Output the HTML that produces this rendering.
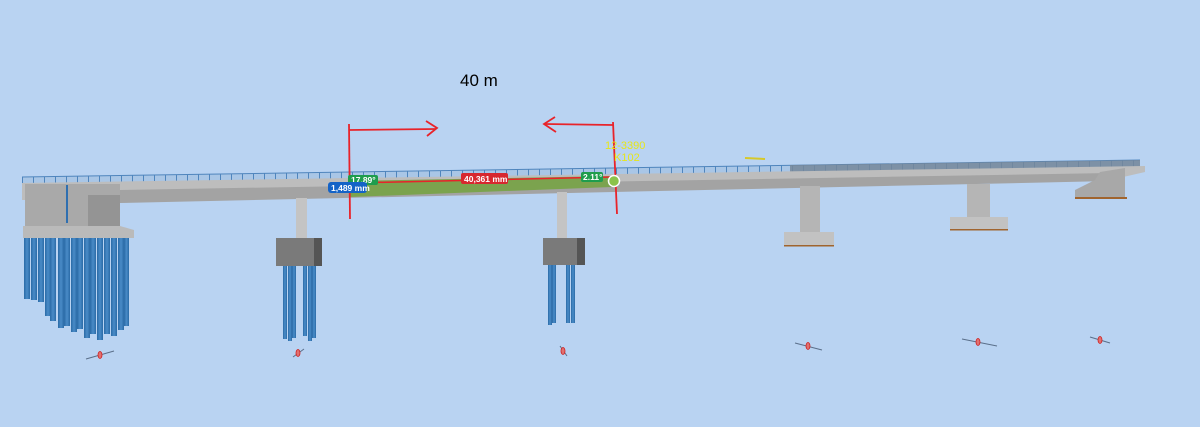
<!DOCTYPE html>
<html><head><meta charset="utf-8"><style>
html,body{margin:0;padding:0;background:#b9d3f2;}
svg{display:block;}
</style></head><body>
<svg width="1200" height="427" viewBox="0 0 1200 427" xmlns="http://www.w3.org/2000/svg" font-family="Liberation Sans, sans-serif">
<rect width="1200" height="427" fill="#b9d3f2"/>
<defs>
<linearGradient id="pile" x1="0" x2="1"><stop offset="0" stop-color="#2a6aa6"/><stop offset="0.5" stop-color="#4a8cc8"/><stop offset="1" stop-color="#2a6aa6"/></linearGradient>
<pattern id="rail" width="11" height="20" patternUnits="userSpaceOnUse"><rect width="11" height="20" fill="#a9c6e6"/><rect x="0" width="1" height="20" fill="#4f85bd"/></pattern>
</defs>
<!-- left abutment piles -->
<g fill="url(#pile)">
<rect x="24" y="236" width="6" height="63"/><rect x="31" y="236" width="6" height="64"/><rect x="38" y="236" width="6" height="66"/>
<rect x="45" y="236" width="6" height="80"/><rect x="50" y="236" width="6" height="85"/><rect x="58" y="236" width="6" height="92"/>
<rect x="64" y="236" width="6" height="90"/><rect x="71" y="236" width="6" height="96"/><rect x="77" y="236" width="6" height="93"/>
<rect x="84" y="236" width="6" height="102"/><rect x="90" y="236" width="6" height="98"/><rect x="97" y="236" width="6" height="104"/>
<rect x="104" y="236" width="6" height="98"/><rect x="111" y="236" width="6" height="100"/><rect x="118" y="236" width="6" height="94"/>
<rect x="124" y="236" width="5" height="90"/>
</g>
<!-- railing -->
<polygon points="22,177 1140,160 1140,168 22,185" fill="url(#rail)"/>
<line x1="22" y1="177" x2="1140" y2="160" stroke="#4f85bd" stroke-width="1"/>
<polygon points="790,165 1140,160 1140,167 790,172" fill="#76879a" opacity="0.85"/>
<!-- deck -->
<polygon points="22,183 1145,166 1145,172 1110,180 120,200 22,200" fill="#bdbdbd"/>
<polygon points="120,190 1110,173 1110,181 120,203" fill="#a3a3a3"/>
<!-- green measured segment -->
<polygon points="350,181 612,176 612,187 350,197" fill="#7ba34e"/>
<!-- left abutment -->
<rect x="25" y="184" width="95" height="42" fill="#a9a9a9"/>
<rect x="88" y="195" width="32" height="31" fill="#949494"/>
<rect x="66" y="185" width="2" height="38" fill="#2f6fb0"/>
<polygon points="23,226 120,226 134,230 134,238 23,238" fill="#bababa"/>
<!-- pier 1 -->
<rect x="296" y="198" width="11" height="40" fill="#c4c4c4"/>
<rect x="276" y="238" width="38" height="28" fill="#7a7a7a"/><rect x="314" y="238" width="8" height="28" fill="#555"/>
<g fill="url(#pile)"><rect x="283" y="266" width="4" height="73"/><rect x="288" y="266" width="4" height="75"/><rect x="292" y="266" width="4" height="72"/><rect x="303" y="266" width="4" height="70"/><rect x="308" y="266" width="4" height="75"/><rect x="312" y="266" width="4" height="72"/></g>
<!-- pier 2 -->
<rect x="557" y="192" width="10" height="46" fill="#c4c4c4"/>
<rect x="543" y="238" width="34" height="27" fill="#7a7a7a"/><rect x="577" y="238" width="8" height="27" fill="#555"/>
<g fill="url(#pile)"><rect x="548" y="265" width="4" height="60"/><rect x="552" y="265" width="4" height="58"/><rect x="566" y="265" width="4" height="58"/><rect x="571" y="265" width="4" height="58"/></g>
<!-- pier 3 -->
<rect x="800" y="186" width="20" height="47" fill="#b5b5b5"/>
<rect x="784" y="232" width="50" height="14" fill="#c2c2c2"/><rect x="784" y="245" width="50" height="1.5" fill="#a0642e"/>
<!-- pier 4 -->
<rect x="967" y="184" width="23" height="34" fill="#b5b5b5"/>
<rect x="950" y="217" width="58" height="13" fill="#c2c2c2"/><rect x="950" y="229" width="58" height="1.5" fill="#a0642e"/>
<!-- right abutment -->
<polygon points="1100,172 1125,168 1125,198 1075,198 1075,190 1085,185 1095,180" fill="#a8a8a8"/>
<rect x="1075" y="197" width="52" height="2" fill="#a0642e"/>
<line x1="745" y1="158" x2="765" y2="159" stroke="#d6c82a" stroke-width="2"/>
<!-- red markup -->
<g stroke="#e8232a" stroke-width="1.8" fill="none">
<line x1="349" y1="124" x2="350" y2="219"/>
<line x1="349" y1="130" x2="436" y2="129"/>
<polyline points="426,121 437,128 427,136"/>
<line x1="613" y1="122" x2="617" y2="214"/>
<line x1="545" y1="124" x2="613" y2="125"/>
<polyline points="555,117 544,124 556,132"/>
<line x1="352" y1="183" x2="612" y2="177" stroke-width="1.5"/>
</g>
<circle cx="614" cy="181" r="5.5" fill="#8bc34a" stroke="#fff" stroke-width="1.5"/>
<text x="460" y="86" font-size="17" fill="#000">40 m</text>
<text x="605" y="149" font-size="11" fill="#e6e61a">12-3390</text>
<text x="614" y="161" font-size="11" fill="#e6e61a">K102</text>
<rect x="348" y="175" width="30" height="10" rx="2" fill="#1f9d4d"/><text x="351" y="183" font-size="8.5" fill="#fff" font-weight="bold">17.89°</text>
<rect x="328" y="182" width="39" height="11" rx="3" fill="#1463c7"/><text x="331" y="191" font-size="8.5" fill="#fff" font-weight="bold">1,489 mm</text>
<rect x="461" y="173" width="47" height="11" rx="2" fill="#d7282f"/><text x="464" y="182" font-size="8.5" fill="#fff" font-weight="bold">40,361 mm</text>
<rect x="581" y="172" width="22" height="10" rx="2" fill="#1f9d4d"/><text x="583" y="180" font-size="8.5" fill="#fff" font-weight="bold">2.11°</text>
<g stroke="#5a6f8a" stroke-width="1">
<line x1="86" y1="359" x2="114" y2="351"/><line x1="293" y1="357" x2="304" y2="349"/><line x1="560" y1="346" x2="567" y2="356"/>
<line x1="795" y1="343" x2="822" y2="350"/><line x1="962" y1="339" x2="997" y2="346"/><line x1="1090" y1="337" x2="1110" y2="343"/>
</g>
<g fill="#e07070" stroke="#d02020" stroke-width="0.8">
<ellipse cx="100" cy="355" rx="2" ry="3.5"/><ellipse cx="298" cy="353" rx="2" ry="3.5"/><ellipse cx="563" cy="351" rx="2" ry="3.5"/>
<ellipse cx="808" cy="346" rx="2" ry="3.5"/><ellipse cx="978" cy="342" rx="2" ry="3.5"/><ellipse cx="1100" cy="340" rx="2" ry="3.5"/>
</g>
</svg>
</body></html>
